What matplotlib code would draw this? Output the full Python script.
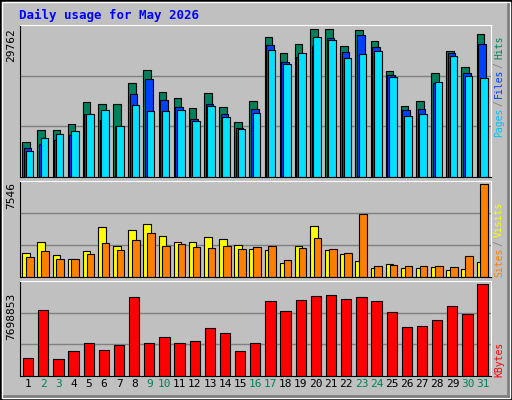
import matplotlib.pyplot as plt
import numpy as np

days = list(range(1, 32))
weekend = {2, 3, 9, 10, 16, 17, 23, 24, 30, 31}

hits = [7137, 9561, 9561, 10773, 15217, 14813, 14813, 18852, 21478, 17035, 15823, 14005, 16833, 14207, 11177, 15419,
        28144, 24912, 26730, 29762, 29762, 26326, 29558, 27336, 21276, 14409, 15419, 20872, 25316, 22084, 28750]
files = [5925, 6733, 7541, 8551, 12793, 11581, 10369, 16631, 19660, 15621, 14139, 11783, 14813, 12793, 9965, 13803,
         26528, 23094, 24104, 26326, 27942, 25114, 28548, 26124, 20468, 13601, 13803, 18852, 24912, 20872, 26730]
pages = [5319, 7945, 8753, 9359, 12793, 13601, 10369, 14611, 13399, 13399, 13601, 11379, 14409, 12187, 9763, 12995,
         25518, 22690, 24912, 28144, 27538, 23902, 24710, 25316, 20064, 12389, 12793, 19054, 24306, 20267, 19862]
visits = [1989, 2887, 1825, 1498, 2152, 4032, 2561, 3868, 4277, 3378, 2887, 2887, 3296, 3133, 2642, 2315,
          2234, 1171, 2561, 4113, 2234, 1907, 1335, 763, 1090, 763, 763, 844, 599, 681, 1253]
sites = [1662, 2152, 1498, 1498, 1907, 2806, 2234, 3051, 3623, 2561, 2724, 2479, 2397, 2561, 2315, 2479,
         2561, 1416, 2397, 3214, 2315, 1989, 5094, 926, 1008, 926, 926, 926, 844, 1743, 7546]
kbytes = [1545000, 5507000, 1461000, 2135000, 2810000, 2220000, 2641000, 6603000, 2810000, 3316000, 2810000,
          2978000, 3990000, 3653000, 2135000, 2810000, 6266000, 5423000, 6350000, 6687000, 6772000, 6434000,
          6603000, 6266000, 5339000, 4074000, 4159000, 4664000, 5844000, 5170000, 7698853]

W, H = 512, 400
BG = "#c0c0c0"
mono = "DejaVu Sans Mono"
fig = plt.figure(figsize=(W / 100, H / 100), dpi=100, facecolor=BG)

# outer bevel
fig.add_artist(plt.Rectangle((0, 0), 1, 1, transform=fig.transFigure, fill=False, ec="black", lw=2))
fig.add_artist(plt.Rectangle((2 / W, 2 / H), 1 - 4 / W, 1 - 4 / H, transform=fig.transFigure,
                             fill=False, ec="white", lw=1))
fig.add_artist(plt.Line2D([1 - 4 / W] * 2, [4 / H, 1 - 4 / H], transform=fig.transFigure, color="#808080", lw=2))
fig.add_artist(plt.Line2D([4 / W, 1 - 4 / W], [4 / H] * 2, transform=fig.transFigure, color="#808080", lw=2))

fig.text(19 / W, 1 - 15 / H, "Daily usage for May 2026", color="#0000ff", fontsize=9, fontweight="bold",
         family=mono, va="center")

x = np.array(days)


def panel(top, bottom):
    ax = fig.add_axes([20 / W, 1 - bottom / H, 471 / W, (bottom - top) / H])
    ax.set_facecolor(BG)
    ax.set_xlim(0.45, 31.55)
    for s in ax.spines.values():
        s.set_color("black")
    ax.spines["top"].set_color("white")
    ax.spines["right"].set_color("white")
    ax.set_xticks([])
    ax.set_yticks([])
    return ax


def side(label, ybottom, color):
    fig.text(499 / W, 1 - ybottom / H, label, rotation=90, color=color, family=mono, fontsize=7,
             ha="center", va="bottom")


ek = dict(edgecolor="black", linewidth=0.8, align="edge")

# hits/files/pages
ax1 = panel(25, 177)
top1 = 29762 * 455 / 442
ax1.set_ylim(0, top1)
for g in (top1 / 3, 2 * top1 / 3):
    ax1.axhline(g, color="#808080", lw=1, zorder=0)
ax1.bar(x - 0.40, hits, width=0.50, color="#00805c", **ek)
ax1.bar(x - 0.30, files, width=0.50, color="#0040ff", **ek)
ax1.bar(x - 0.18, pages, width=0.50, color="#00e0ff", **ek)
fig.text(11 / W, 1 - 45 / H, "29762", rotation=90, family=mono, fontsize=8, ha="center", va="center")
side("Pages", 137, "#00c0ff")
side("/", 106, "#808080")
side("Files", 98, "#0040ff")
side("/", 68, "#808080")
side("Hits", 59, "#00805c")

# visits/sites
ax2 = panel(181, 277)
top2 = 7546 * 287 / 277
ax2.set_ylim(0, top2)
for g in (top2 / 3, 2 * top2 / 3):
    ax2.axhline(g, color="#808080", lw=1, zorder=0)
ax2.bar(x - 0.40, visits, width=0.50, color="#ffff00", **ek)
ax2.bar(x - 0.15, sites, width=0.50, color="#ff8000", **ek)
fig.text(11 / W, 1 - 195 / H, "7546", rotation=90, family=mono, fontsize=8, ha="center", va="center")
side("Sites", 277, "#ff8000")
side("/", 246, "#808080")
side("Visits", 237, "#ffff00")

# kbytes
ax3 = panel(281, 376)
top3 = 7698853 * 284 / 274
ax3.set_ylim(0, top3)
for g in (top3 / 3, 2 * top3 / 3):
    ax3.axhline(g, color="#808080", lw=1, zorder=0)
ax3.bar(x - 0.35, kbytes, width=0.68, color="#ff0000", **ek)
fig.text(11 / W, 1 - 316 / H, "7698853", rotation=90, family=mono, fontsize=8, ha="center", va="center")
side("KBytes", 377, "#ff0000")

for d in days:
    ax3.text(d, -0.03, str(d), transform=ax3.get_xaxis_transform(), ha="center", va="top", fontsize=8,
             family=mono, color="#00805c" if d in weekend else "black")

fig.savefig("out.png", dpi=100, facecolor=BG)
